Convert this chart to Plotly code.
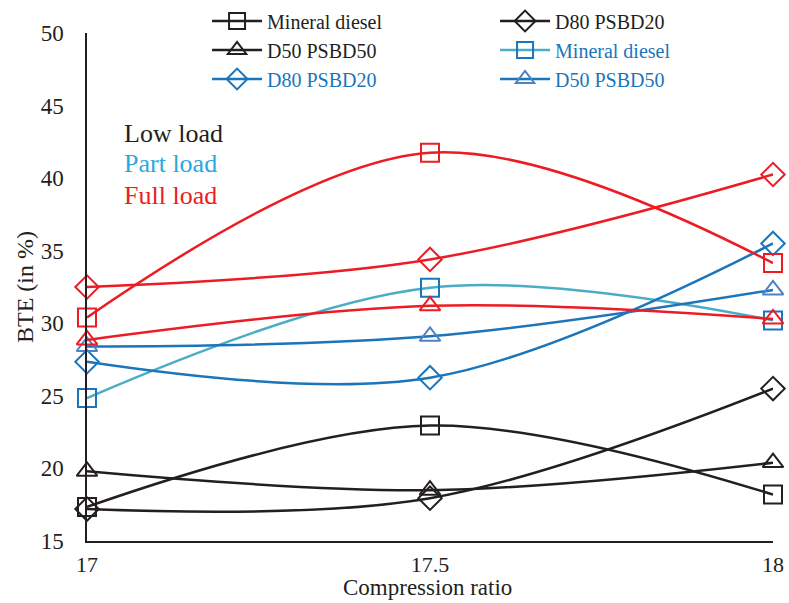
import plotly.graph_objects as go

cr = [17, 17.5, 18]

low_md = [17.35, 22.95, 18.2]
low_d80 = [17.2, 17.95, 25.5]
low_d50 = [19.8, 18.5, 20.4]

part_md = [24.85, 32.45, 30.2]
part_d80 = [27.35, 26.25, 35.5]
part_d50 = [28.4, 29.1, 32.3]

full_md = [30.4, 41.75, 34.15]
full_d80 = [32.5, 34.4, 40.25]
full_d50 = [28.85, 31.2, 30.3]

BLACK = "#231F20"
BLUE = "#1B75BB"
LBLUE = "#4BACC6"
TBLUE = "#4F81C4"
RED = "#ED1C24"
FONT = "Liberation Serif"

fig = go.Figure()

def add(y, line_color, marker_color, symbol, name, show, size=18):
    fig.add_trace(go.Scatter(
        x=cr, y=y, mode="lines+markers", name=name, showlegend=show,
        line=dict(color=line_color, width=2.5, shape="spline", smoothing=1),
        marker=dict(symbol=symbol, size=size, color=marker_color,
                    line=dict(color=marker_color, width=2)),
        cliponaxis=False,
    ))

def lbl(text, color):
    return f'<span style="color:{color}">{text}</span>'

add(low_md, BLACK, BLACK, "square-open", lbl("Mineral diesel", BLACK), True)
add(low_d80, BLACK, BLACK, "diamond-open", lbl("D80 PSBD20", BLACK), True)
add(low_d50, BLACK, BLACK, "triangle-up-open", lbl("D50 PSBD50", BLACK), True)
add(part_md, LBLUE, BLUE, "square-open", lbl("Mineral diesel", BLUE), True)
add(part_d80, BLUE, BLUE, "diamond-open", lbl("D80 PSBD20", BLUE), True)
add(part_d50, BLUE, TBLUE, "triangle-up-open", lbl("D50 PSBD50", BLUE), True)
add(full_md, RED, RED, "square-open", "Mineral diesel", False)
add(full_d80, RED, RED, "diamond-open", "D80 PSBD20", False)
add(full_d50, RED, RED, "triangle-up-open", "D50 PSBD50", False)

for txt, col, yy in [("Low load", BLACK, 43.1), ("Part load", "#29A9DF", 41.0), ("Full load", RED, 38.8)]:
    fig.add_annotation(x=17.051, y=yy, xref="x", yref="y", text=txt, showarrow=False,
                       xanchor="left", yanchor="middle", font=dict(family=FONT, size=26, color=col))

fig.add_annotation(x=0.496, y=-0.0906, xref="paper", yref="paper", text="Compression ratio",
                   showarrow=False, xanchor="center", yanchor="middle",
                   font=dict(family=FONT, size=23, color=BLACK))

fig.update_layout(
    width=789, height=603,
    margin=dict(l=87, r=16, t=33, b=62, autoexpand=False),
    paper_bgcolor="white", plot_bgcolor="white",
    font=dict(family=FONT, color=BLACK),
    legend=dict(orientation="h", x=0.175, y=1.062, xanchor="left", yanchor="top",
                entrywidth=223, font=dict(family=FONT, size=20, color=BLACK),
                bgcolor="rgba(0,0,0,0)", itemwidth=50, traceorder="normal"),
)
fig.update_xaxes(range=[17, 18], tickvals=[17, 17.5, 18], ticktext=["17", "17.5", "18"],
                 showgrid=False, zeroline=False, showline=True, linecolor=BLACK, linewidth=1.5,
                 ticks="", ticklabelstandoff=3, tickfont=dict(family=FONT, size=22, color=BLACK))
fig.update_yaxes(range=[15, 50], dtick=5, showgrid=False, zeroline=False, showline=True,
                 linecolor=BLACK, linewidth=1.5, ticks="", ticklabelstandoff=17,
                 tickfont=dict(family=FONT, size=23, color=BLACK),
                 title=dict(text="BTE (in %)", font=dict(family=FONT, size=24, color=BLACK), standoff=0))

fig.write_html("out.html")
